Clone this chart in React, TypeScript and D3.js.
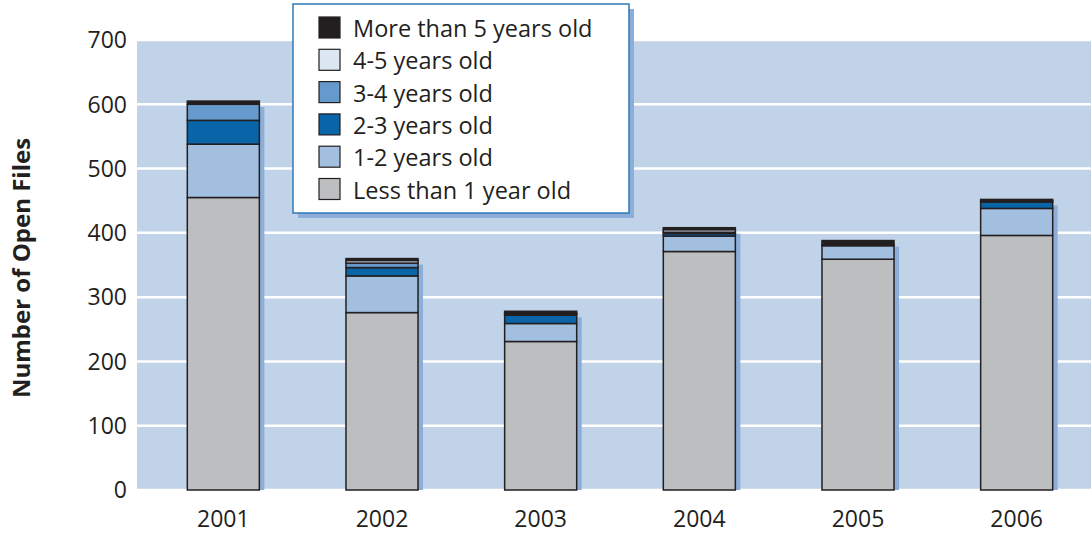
import React from "react";
import * as d3 from "d3";

const years = ["2001", "2002", "2003", "2004", "2005", "2006"];
const lessThan1 = [455, 276, 231, 371, 359, 396];
const oneToTwo = [83, 57, 28, 24, 21, 42];
const twoToThree = [37, 13, 13, 4, 2, 10];
const threeToFour = [25, 7, 2, 2, 0, 2];
const fourToFive = [0, 4, 1, 4, 0, 0];
const moreThan5 = [5, 3, 3, 3, 6, 2];
const yTicks = [0, 100, 200, 300, 400, 500, 600, 700];

const seriesKeys = ["lt1", "y12", "y23", "y34", "y45", "gt5"];
const seriesLabels: Record<string, string> = {
  lt1: "Less than 1 year old",
  y12: "1-2 years old",
  y23: "2-3 years old",
  y34: "3-4 years old",
  y45: "4-5 years old",
  gt5: "More than 5 years old",
};
const seriesColors: Record<string, string> = {
  lt1: "#bcbec0",
  y12: "#a3bfdf",
  y23: "#0a64a8",
  y34: "#6699cc",
  y45: "#dde7f1",
  gt5: "#231f20",
};

const W = 1091;
const H = 533;
const plotLeft = 137;
const plotTop = 40;
const plotBottom = 490;
const font = "'Open Sans', 'Noto Sans', sans-serif";

export default function App() {
  const rows = years.map((y, i) => ({
    year: y,
    lt1: lessThan1[i],
    y12: oneToTwo[i],
    y23: twoToThree[i],
    y34: threeToFour[i],
    y45: fourToFive[i],
    gt5: moreThan5[i],
  }));
  const stacked = d3.stack<any>().keys(seriesKeys)(rows);
  const totals = rows.map((r) => seriesKeys.reduce((s, k) => s + (r as any)[k], 0));

  const x = d3
    .scaleBand<string>()
    .domain(years)
    .range([144, 1096])
    .paddingInner(0.546)
    .paddingOuter(0.273);
  const y = d3.scaleLinear().domain([0, 700]).range([plotBottom, plotTop]);
  const bw = x.bandwidth();

  const legendItems = [...seriesKeys].reverse();
  const lgX = 293;
  const lgY = 4;
  const lgW = 336;
  const lgH = 209;

  return (
    <svg
      width={W}
      height={H}
      style={{ position: "absolute", left: 0, top: 0, background: "#fff" }}
    >
      <defs>
        <clipPath id="plotClip">
          <rect x={plotLeft} y={plotTop} width={W - plotLeft} height={plotBottom - plotTop} />
        </clipPath>
      </defs>
      <rect x={plotLeft} y={plotTop} width={W - plotLeft} height={plotBottom - plotTop} fill="#c0d3e8" />
      {yTicks.map((t) => (
        <line key={t} x1={plotLeft} x2={W} y1={y(t)} y2={y(t)} stroke="#ffffff" strokeWidth={2.5} />
      ))}
      <g clipPath="url(#plotClip)">
        {years.map((yr, i) => (
          <rect
            key={"sh" + yr}
            x={(x(yr) as number) + 5}
            y={y(totals[i]) + 6}
            width={bw}
            height={plotBottom - y(totals[i])}
            fill="#8daed8"
          />
        ))}
      </g>
      {stacked.map((s) => (
        <g key={s.key}>
          {s.map((d, i) =>
            d[1] - d[0] > 0 ? (
              <rect
                key={i}
                x={x(years[i]) as number}
                y={y(d[1])}
                width={bw}
                height={y(d[0]) - y(d[1])}
                fill={seriesColors[s.key]}
                stroke="#231f20"
                strokeWidth={1.5}
              />
            ) : null
          )}
        </g>
      ))}
      {yTicks.map((t) => (
        <text
          key={t}
          x={127}
          y={y(t)}
          dy="0.36em"
          textAnchor="end"
          fontFamily={font}
          fontSize={23}
          fill="#231f20"
        >
          {t}
        </text>
      ))}
      {years.map((yr) => (
        <text
          key={yr}
          x={(x(yr) as number) + bw / 2}
          y={527}
          textAnchor="middle"
          fontFamily={font}
          fontSize={23}
          fill="#231f20"
        >
          {yr}
        </text>
      ))}
      <text
        transform={`translate(30,268) rotate(-90)`}
        textAnchor="middle"
        fontFamily={font}
        fontWeight="bold"
        fontSize={24}
        fill="#231f20"
      >
        Number of Open Files
      </text>
      <rect x={lgX + 5} y={lgY + 5} width={lgW} height={lgH} fill="#8daed8" />
      <rect x={lgX} y={lgY} width={lgW} height={lgH} fill="#ffffff" stroke="#2e78b7" strokeWidth={1.5} />
      {legendItems.map((k, i) => (
        <g key={k} transform={`translate(0, ${17 + i * 32.3})`}>
          <rect x={319} y={0} width={21} height={21} fill={seriesColors[k]} stroke="#231f20" strokeWidth={1.2} />
          <text x={353} y={20} fontFamily={font} fontSize={23.5} fill="#231f20">
            {seriesLabels[k]}
          </text>
        </g>
      ))}
    </svg>
  );
}
